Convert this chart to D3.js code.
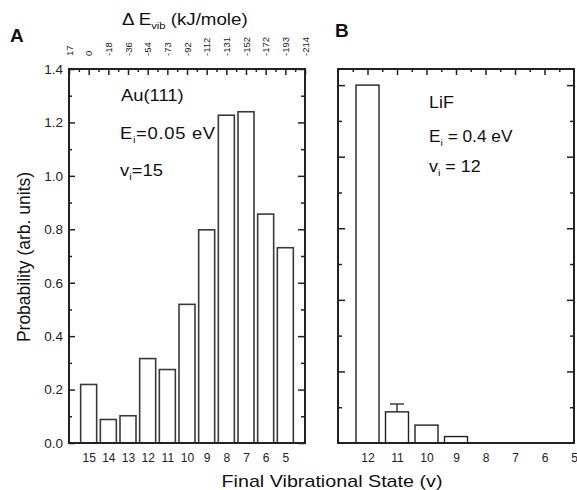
<!DOCTYPE html>
<html>
<head>
<meta charset="utf-8">
<script src="https://cdn.jsdelivr.net/npm/d3@7"></script>
<style>
  html, body { margin: 0; padding: 0; background: #fff; }
  svg { display: block; font-family: "Liberation Sans", Arial, Helvetica, sans-serif; }
  .axis path { display: none; }
  .axis line { stroke: #222; stroke-width: 1.5; }
  .axis text { fill: #222; }
</style>
</head>
<body>
<svg id="chart" width="577" height="490"></svg>
<script>
// ---- Data ----
const statesA = [15, 14, 13, 12, 11, 10, 9, 8, 7, 6, 5];
const probA = [0.219, 0.088, 0.102, 0.316, 0.275, 0.519, 0.798, 1.227, 1.240, 0.857, 0.731];
const topStatesA = [16, 15, 14, 13, 12, 11, 10, 9, 8, 7, 6, 5, 4];
const dEvibLabels = ["17", "0", "-18", "-36", "-54", "-73", "-92", "-112", "-131", "-152", "-172", "-193", "-214"];
const yTicksA = [0, 0.2, 0.4, 0.6, 0.8, 1.0, 1.2, 1.4];

const statesB = [12, 11, 10, 9];
const probB = [1.0, 0.087, 0.050, 0.018];
const errB = [0, 0.022, 0, 0];
const axisStatesB = [12, 11, 10, 9, 8, 7, 6, 5];

// ---- Layout ----
const svg = d3.select("#chart");
const plotTop = 69, plotBot = 443;
const A = { left: 69, right: 305 };
const B = { left: 338, right: 574 };

const xA = d3.scaleLinear().domain([16, 4]).range([A.left, A.right]);
const yA = d3.scaleLinear().domain([0, 1.4]).range([plotBot, plotTop]);
const xB = d3.scaleLinear().domain([13, 5]).range([B.left, B.right]);
const yB = d3.scaleLinear().domain([0, 1.045]).range([plotBot, plotTop]);

const range = (a, b, s) => d3.range(a, b + s / 2, s);

function frame(p) {
  svg.append("rect")
    .attr("x", p.left).attr("y", plotTop)
    .attr("width", p.right - p.left).attr("height", plotBot - plotTop)
    .attr("fill", "none").attr("stroke", "#222").attr("stroke-width", 2);
}

// ---- Panel A ----
const gA = svg.append("g");
const bwA = 16;
gA.selectAll("rect.bar").data(statesA).join("rect")
  .attr("class", "bar")
  .attr("x", (d) => xA(d) - bwA / 2)
  .attr("y", (d, i) => yA(probA[i]))
  .attr("width", bwA)
  .attr("height", (d, i) => yA(0) - yA(probA[i]))
  .attr("fill", "#fff").attr("stroke", "#3a3a3a").attr("stroke-width", 1.6);

gA.append("g").attr("class", "axis").attr("transform", `translate(${A.left},0)`)
  .call(d3.axisLeft(yA).tickValues(yTicksA).tickSize(-6).tickPadding(6).tickFormat(d3.format(".1f")))
  .selectAll("text").style("font-size", "13.5px");
gA.append("g").attr("class", "axis").attr("transform", `translate(${A.left},0)`)
  .call(d3.axisLeft(yA).tickValues(range(0.1, 1.3, 0.2)).tickSize(-3).tickFormat(""));
gA.append("g").attr("class", "axis").attr("transform", `translate(${A.right},0)`)
  .call(d3.axisRight(yA).tickValues(yTicksA).tickSize(-7).tickFormat(""));
gA.append("g").attr("class", "axis").attr("transform", `translate(${A.right},0)`)
  .call(d3.axisRight(yA).tickValues(range(0.1, 1.3, 0.2)).tickSize(-4).tickFormat(""));
gA.append("g").attr("class", "axis").attr("transform", `translate(0,${plotTop})`)
  .call(d3.axisTop(xA).tickValues(topStatesA).tickSize(-6).tickFormat(""));
gA.append("g").attr("class", "axis").attr("transform", `translate(0,${plotTop})`)
  .call(d3.axisTop(xA).tickValues(range(4.5, 15.5, 1)).tickSize(-3).tickFormat(""));
gA.selectAll("text.toplab").data(topStatesA).join("text")
  .attr("class", "toplab")
  .attr("transform", (d) => `translate(${xA(d) + 3.5},56) rotate(-90)`)
  .attr("text-anchor", "start")
  .style("font-size", "9.5px").attr("fill", "#222")
  .text((d, i) => dEvibLabels[i]);
gA.append("g").attr("class", "axis").attr("transform", `translate(0,${plotBot})`)
  .call(d3.axisBottom(xA).tickValues(statesA).tickSize(0).tickPadding(10).tickFormat(d3.format("d")))
  .selectAll("text").style("font-size", "12px");
frame(A);

// ---- Panel B ----
const gB = svg.append("g");
const bwB = 23;
gB.selectAll("rect.bar").data(statesB).join("rect")
  .attr("class", "bar")
  .attr("x", (d) => xB(d) - bwB / 2)
  .attr("y", (d, i) => yB(probB[i]))
  .attr("width", bwB)
  .attr("height", (d, i) => yB(0) - yB(probB[i]))
  .attr("fill", "#fff").attr("stroke", "#222").attr("stroke-width", 1.4);
const errData = statesB.map((d, i) => ({ v: d, p: probB[i], e: errB[i] })).filter((d) => d.e > 0);
gB.selectAll("line.err").data(errData).join("line")
  .attr("class", "err")
  .attr("x1", (d) => xB(d.v)).attr("x2", (d) => xB(d.v))
  .attr("y1", (d) => yB(d.p)).attr("y2", (d) => yB(d.p + d.e))
  .attr("stroke", "#222").attr("stroke-width", 1.3);
gB.selectAll("line.cap").data(errData).join("line")
  .attr("class", "cap")
  .attr("x1", (d) => xB(d.v) - 7).attr("x2", (d) => xB(d.v) + 7)
  .attr("y1", (d) => yB(d.p + d.e)).attr("y2", (d) => yB(d.p + d.e))
  .attr("stroke", "#222").attr("stroke-width", 1.3);

const majB = range(0.2, 1.0, 0.2), minB = range(0.1, 0.9, 0.2);
gB.append("g").attr("class", "axis").attr("transform", `translate(${B.left},0)`)
  .call(d3.axisLeft(yB).tickValues(majB).tickSize(-7).tickFormat(""));
gB.append("g").attr("class", "axis").attr("transform", `translate(${B.left},0)`)
  .call(d3.axisLeft(yB).tickValues(minB).tickSize(-4).tickFormat(""));
gB.append("g").attr("class", "axis").attr("transform", `translate(${B.right},0)`)
  .call(d3.axisRight(yB).tickValues(majB).tickSize(-7).tickFormat(""));
gB.append("g").attr("class", "axis").attr("transform", `translate(${B.right},0)`)
  .call(d3.axisRight(yB).tickValues(minB).tickSize(-4).tickFormat(""));
gB.append("g").attr("class", "axis").attr("transform", `translate(0,${plotTop})`)
  .call(d3.axisTop(xB).tickValues(range(6, 12, 1)).tickSize(-6).tickFormat(""));
gB.append("g").attr("class", "axis").attr("transform", `translate(0,${plotTop})`)
  .call(d3.axisTop(xB).tickValues(range(5.5, 12.5, 1)).tickSize(-3).tickFormat(""));
gB.append("g").attr("class", "axis").attr("transform", `translate(0,${plotBot})`)
  .call(d3.axisBottom(xB).tickValues(axisStatesB).tickSize(0).tickPadding(10).tickFormat(d3.format("d")))
  .selectAll("text").style("font-size", "12px");
frame(B);

// ---- Text ----
// text with optional subscripts, slightly stretched horizontally like the scanned original
function label(x, y, parts, size, sx, spacing) {
  const t = svg.append("text")
    .attr("transform", `translate(${x},${y}) scale(${sx},1)`)
    .style("font-size", size + "px").attr("fill", "#111");
  if (spacing) t.style("letter-spacing", spacing + "px");
  let prevSub = false;
  parts.forEach(([s, isSub]) => {
    const ts = t.append("tspan").text(s);
    if (isSub) { ts.attr("dy", size * 0.28).style("font-size", (size * 0.6) + "px"); prevSub = true; }
    else if (prevSub) { ts.attr("dy", -size * 0.28); prevSub = false; }
  });
  return t;
}
svg.append("text").attr("x", 10).attr("y", 42).text("A").style("font-size", "19px").style("font-weight", "bold").attr("fill", "#111");
svg.append("text").attr("x", 335).attr("y", 37).text("B").style("font-size", "19px").style("font-weight", "bold").attr("fill", "#111");

label(122, 25, [["\u0394 E", false], ["vib", true], [" (kJ/mole)", false]], 16, 1.17);

svg.append("text").attr("transform", "translate(30,257) rotate(-90)").attr("text-anchor", "middle")
  .style("font-size", "17.5px").attr("fill", "#111").text("Probability (arb. units)");
svg.append("text").attr("transform", "translate(332,487) scale(1.16,1)").attr("text-anchor", "middle")
  .style("font-size", "17px").attr("fill", "#111").text("Final Vibrational State (v)");

label(121, 101, [["Au(111)", false]], 16, 1.15);
label(120, 139, [["E", false], ["i", true], ["=0.05 eV", false]], 16, 1.15, 0.6);
label(120, 176, [["v", false], ["i", true], ["=15", false]], 16, 1.15);
label(429, 108, [["LiF", false]], 16, 1.12);
label(429, 142, [["E", false], ["i", true], [" = 0.4 eV", false]], 16, 1.08);
label(429, 172, [["v", false], ["i", true], [" = 12", false]], 16, 1.12);
</script>
</body>
</html>
